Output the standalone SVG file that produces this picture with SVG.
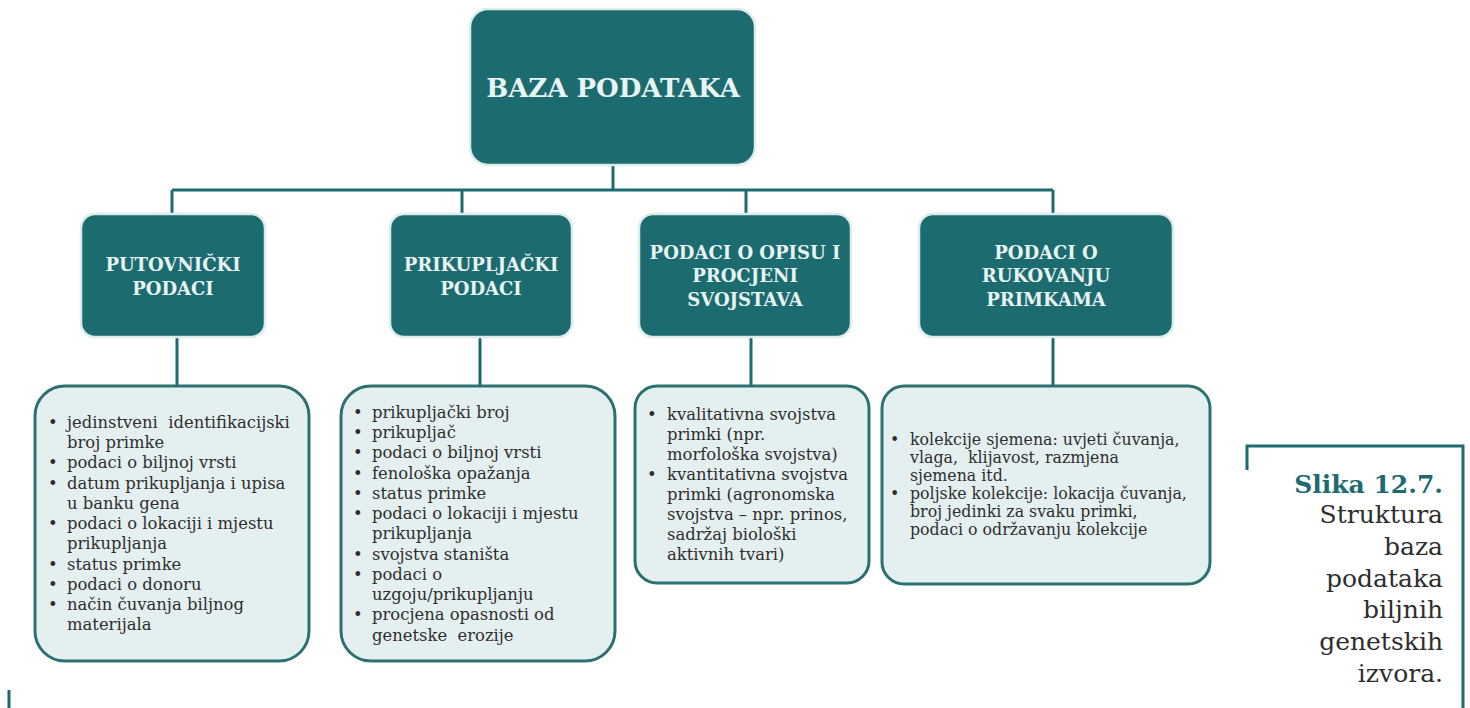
<svg xmlns="http://www.w3.org/2000/svg" width="1470" height="708" viewBox="0 0 1470 708">
<style>
.hd{fill:#1b6b6f;stroke:#dcecec;stroke-width:2.5}
.ht{font-family:"DejaVu Serif",serif;font-weight:bold;fill:#e8f3f3;text-anchor:middle}
.bx{fill:#e4f0f0;stroke:#2c7072;stroke-width:3}
.bt{font-family:"DejaVu Serif",serif;font-size:16.4px;fill:#2e2e2e}
.cn{fill:none;stroke:#1d6b70;stroke-width:3}
.cap{font-family:"DejaVu Serif",serif;font-size:25px;fill:#2e2e2e;text-anchor:end}
</style>
<rect width="1470" height="708" fill="#ffffff"/>
<g id="connectors" class="cn">
<path d="M613 166V190M172 190H1053M172 190V215M462 190V215M746 190V215M1053 190V215"/>
<path d="M177 337V386M480 337V386M751 337V386M1053 337V386"/>
</g>
<g id="root">
<rect class="hd" x="470" y="9" width="285" height="156" rx="18"/>
<text class="ht" x="613" y="97" font-size="26">BAZA PODATAKA</text>
</g>
<g id="n1">
<rect class="hd" x="81" y="214" width="184" height="123" rx="14"/>
<text class="ht" font-size="18" x="173" y="271">PUTOVNIČKI</text>
<text class="ht" font-size="18" x="173" y="295">PODACI</text>
</g>
<g id="n2">
<rect class="hd" x="390" y="214" width="182" height="123" rx="14"/>
<text class="ht" font-size="18" x="481" y="271">PRIKUPLJAČKI</text>
<text class="ht" font-size="18" x="481" y="295">PODACI</text>
</g>
<g id="n3">
<rect class="hd" x="639" y="214" width="212" height="123" rx="14"/>
<text class="ht" font-size="18" x="745" y="259">PODACI O OPISU I</text>
<text class="ht" font-size="18" x="745" y="282">PROCJENI</text>
<text class="ht" font-size="18" x="745" y="306">SVOJSTAVA</text>
</g>
<g id="n4">
<rect class="hd" x="919" y="214" width="254" height="123" rx="14"/>
<text class="ht" font-size="18" x="1046" y="259">PODACI O</text>
<text class="ht" font-size="18" x="1046" y="282">RUKOVANJU</text>
<text class="ht" font-size="18" x="1046" y="306">PRIMKAMA</text>
</g>
<g id="d1">
<rect class="bx" x="35" y="386" width="274" height="275" rx="30"/>
<text class="bt">
<tspan x="48" y="428">•</tspan><tspan x="67" y="428">jedinstveni &#160;identifikacijski</tspan>
<tspan x="67" y="448">broj primke</tspan>
<tspan x="48" y="468">•</tspan><tspan x="67" y="468">podaci o biljnoj vrsti</tspan>
<tspan x="48" y="489">•</tspan><tspan x="67" y="489">datum prikupljanja i upisa</tspan>
<tspan x="67" y="509">u banku gena</tspan>
<tspan x="48" y="529">•</tspan><tspan x="67" y="529">podaci o lokaciji i mjestu</tspan>
<tspan x="67" y="549">prikupljanja</tspan>
<tspan x="48" y="570">•</tspan><tspan x="67" y="570">status primke</tspan>
<tspan x="48" y="590">•</tspan><tspan x="67" y="590">podaci o donoru</tspan>
<tspan x="48" y="610">•</tspan><tspan x="67" y="610">način čuvanja biljnog</tspan>
<tspan x="67" y="630">materijala</tspan>
</text>
</g>
<g id="d2">
<rect class="bx" x="341" y="386" width="274" height="275" rx="30"/>
<text class="bt">
<tspan x="353" y="418">•</tspan><tspan x="372" y="418">prikupljački broj</tspan>
<tspan x="353" y="438">•</tspan><tspan x="372" y="438">prikupljač</tspan>
<tspan x="353" y="458">•</tspan><tspan x="372" y="458">podaci o biljnoj vrsti</tspan>
<tspan x="353" y="479">•</tspan><tspan x="372" y="479">fenološka opažanja</tspan>
<tspan x="353" y="499">•</tspan><tspan x="372" y="499">status primke</tspan>
<tspan x="353" y="519">•</tspan><tspan x="372" y="519">podaci o lokaciji i mjestu</tspan>
<tspan x="372" y="539">prikupljanja</tspan>
<tspan x="353" y="560">•</tspan><tspan x="372" y="560">svojstva staništa</tspan>
<tspan x="353" y="580">•</tspan><tspan x="372" y="580">podaci o</tspan>
<tspan x="372" y="600">uzgoju/prikupljanju</tspan>
<tspan x="353" y="620">•</tspan><tspan x="372" y="620">procjena opasnosti od</tspan>
<tspan x="372" y="641">genetske &#160;erozije</tspan>
</text>
</g>
<g id="d3">
<rect class="bx" x="635" y="386" width="234" height="197" rx="22"/>
<text class="bt">
<tspan x="647" y="420">•</tspan><tspan x="667" y="420">kvalitativna svojstva</tspan>
<tspan x="667" y="440">primki (npr.</tspan>
<tspan x="667" y="460">morfološka svojstva)</tspan>
<tspan x="647" y="480">•</tspan><tspan x="667" y="480">kvantitativna svojstva</tspan>
<tspan x="667" y="500">primki (agronomska</tspan>
<tspan x="667" y="520">svojstva – npr. prinos,</tspan>
<tspan x="667" y="540">sadržaj biološki</tspan>
<tspan x="667" y="560">aktivnih tvari)</tspan>
</text>
</g>
<g id="d4">
<rect class="bx" x="882" y="386" width="328" height="198" rx="22"/>
<text class="bt" style="font-size:15.8px">
<tspan x="890" y="445">•</tspan><tspan x="910" y="445">kolekcije sjemena: uvjeti čuvanja,</tspan>
<tspan x="910" y="463">vlaga, &#160;klijavost, razmjena</tspan>
<tspan x="910" y="481">sjemena itd.</tspan>
<tspan x="890" y="499">•</tspan><tspan x="910" y="499">poljske kolekcije: lokacija čuvanja,</tspan>
<tspan x="910" y="517">broj jedinki za svaku primki,</tspan>
<tspan x="910" y="535">podaci o održavanju kolekcije</tspan>
</text>
</g>
<g id="caption">
<path class="cn" d="M1247 470V446H1463V708"/>
<path class="cn" d="M9 690V708"/>
<text class="cap" x="1443" y="493" font-weight="bold" style="fill:#1d6b70">Slika 12.7.</text>
<text class="cap" x="1443" y="523">Struktura</text>
<text class="cap" x="1443" y="555">baza</text>
<text class="cap" x="1443" y="587">podataka</text>
<text class="cap" x="1443" y="618">biljnih</text>
<text class="cap" x="1443" y="650">genetskih</text>
<text class="cap" x="1443" y="682">izvora.</text>
</g>
</svg>
